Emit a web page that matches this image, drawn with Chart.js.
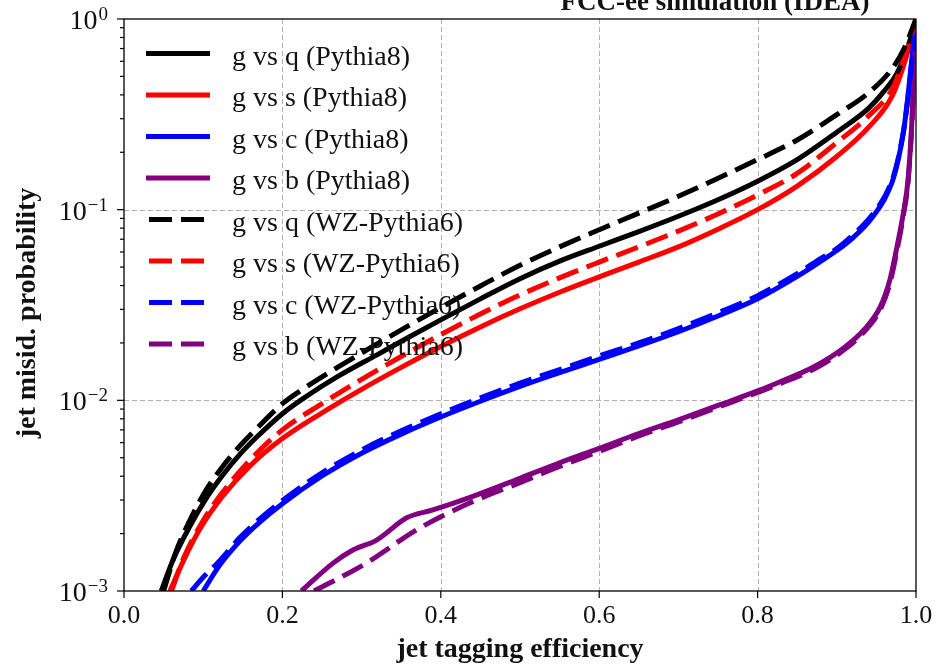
<!DOCTYPE html>
<html><head><meta charset="utf-8">
<script src="https://cdn.jsdelivr.net/npm/chart.js@4.4.1/dist/chart.umd.min.js"></script>
<style>html,body{margin:0;padding:0;background:#fff;overflow:hidden}#wrap{width:937px;height:665px}</style>
</head><body><div id="wrap"><canvas id="c" width="937" height="665"></canvas></div>
<script>
// ---------- texts & ticks ----------
const titleText = 'FCC-ee simulation (IDEA)';
const xAxisLabel = 'jet tagging efficiency';
const yAxisLabel = 'jet misid. probability';
const xTickValues = [0, 0.2, 0.4, 0.6, 0.8, 1.0];
const xTickLabels = ['0.0', '0.2', '0.4', '0.6', '0.8', '1.0'];
const xGridValues = [0.2, 0.4, 0.6, 0.8];
const yTickValues = [0.001, 0.01, 0.1, 1];
const yTickExponents = ['\u22123', '\u22122', '\u22121', '0'];
const yGridValues = [0.01, 0.1];
const yMinorMantissas = [2, 3, 4, 5, 6, 7, 8, 9];

// ---------- series ----------
const seriesLabels = ['g vs q (Pythia8)', 'g vs s (Pythia8)', 'g vs c (Pythia8)', 'g vs b (Pythia8)',
  'g vs q (WZ-Pythia6)', 'g vs s (WZ-Pythia6)', 'g vs c (WZ-Pythia6)', 'g vs b (WZ-Pythia6)'];
const seriesColors = ['#000000', '#ff0000', '#0000ff', '#800080', '#000000', '#ff0000', '#0000ff', '#800080'];
const seriesDashed = [false, false, false, false, true, true, true, true];

const effQ8 = [0.047, 0.062, 0.083, 0.104, 0.125, 0.146, 0.167, 0.2, 0.23, 0.27, 0.32, 0.36, 0.4, 0.45, 0.5, 0.55, 0.6, 0.65, 0.7, 0.75, 0.8, 0.85, 0.9, 0.94, 0.96, 0.975, 0.99, 1.0];
const misQ8 = [0.001, 0.00146, 0.00218, 0.00307, 0.00407, 0.00519, 0.00638, 0.00851, 0.01047, 0.01334, 0.01738, 0.02148, 0.02642, 0.03404, 0.04345, 0.0537, 0.0643, 0.0767, 0.0923, 0.1127, 0.141, 0.183, 0.255, 0.34, 0.42, 0.51, 0.72, 1.0];

const effS8 = [0.058, 0.075, 0.096, 0.125, 0.16, 0.2, 0.25, 0.3, 0.35, 0.4, 0.45, 0.5, 0.55, 0.6, 0.65, 0.7, 0.75, 0.8, 0.85, 0.9, 0.94, 0.97, 0.986, 1.0];
const misS8 = [0.001, 0.00144, 0.00212, 0.00316, 0.00457, 0.0063, 0.0086, 0.01142, 0.01488, 0.01916, 0.02427, 0.0302, 0.0369, 0.0444, 0.0531, 0.0638, 0.079, 0.1, 0.133, 0.19, 0.27, 0.395, 0.6, 1.0];

const effC8 = [0.1, 0.12, 0.146, 0.17, 0.2, 0.25, 0.3, 0.35, 0.4, 0.45, 0.5, 0.55, 0.6, 0.65, 0.7, 0.75, 0.8, 0.85, 0.88, 0.9, 0.92, 0.94, 0.96, 0.965, 0.97, 0.975, 0.98, 0.985, 0.99, 0.995, 1.0];
const misC8 = [0.001, 0.00135, 0.00182, 0.00227, 0.00287, 0.00401, 0.00528, 0.00665, 0.00818, 0.00989, 0.01183, 0.01396, 0.0164, 0.0193, 0.0229, 0.0277, 0.0341, 0.0447, 0.0537, 0.061, 0.071, 0.086, 0.113, 0.125, 0.14, 0.165, 0.205, 0.27, 0.40, 0.63, 1.0];

const effB8 = [0.224, 0.264, 0.289, 0.319, 0.357, 0.39, 0.437, 0.5, 0.55, 0.6, 0.65, 0.7, 0.75, 0.8, 0.83, 0.87, 0.91, 0.935, 0.955, 0.967, 0.976, 0.984, 0.99, 0.995, 0.998, 1.0];
const misB8 = [0.001, 0.0014, 0.00164, 0.00185, 0.00242, 0.00266, 0.0031, 0.0039, 0.0047, 0.0056, 0.0067, 0.0079, 0.0094, 0.0112, 0.0126, 0.0149, 0.019, 0.0236, 0.031, 0.0428, 0.064, 0.096, 0.144, 0.3, 0.6, 1.0];

const effQ6 = [0.05, 0.065, 0.083, 0.104, 0.125, 0.146, 0.167, 0.2, 0.23, 0.27, 0.32, 0.36, 0.4, 0.45, 0.5, 0.55, 0.6, 0.65, 0.7, 0.75, 0.8, 0.85, 0.9, 0.94, 0.97, 0.985, 1.0];
const misQ6 = [0.001, 0.00158, 0.00234, 0.0034, 0.00452, 0.00575, 0.00708, 0.0096, 0.01175, 0.01493, 0.01982, 0.02472, 0.0307, 0.0398, 0.0511, 0.0638, 0.0785, 0.0959, 0.1175, 0.1462, 0.1832, 0.232, 0.315, 0.41, 0.55, 0.7, 1.0];

const effS6 = [0.06, 0.075, 0.1, 0.125, 0.16, 0.2, 0.25, 0.3, 0.35, 0.4, 0.45, 0.5, 0.55, 0.6, 0.65, 0.7, 0.75, 0.8, 0.85, 0.9, 0.94, 0.97, 0.985, 1.0];
const misS6 = [0.001, 0.00148, 0.00234, 0.00331, 0.0049, 0.007, 0.0096, 0.01288, 0.01698, 0.02213, 0.02835, 0.0357, 0.0439, 0.0531, 0.0638, 0.0772, 0.095, 0.1195, 0.155, 0.225, 0.31, 0.43, 0.62, 1.0];

const effC6 = [0.085, 0.1, 0.12, 0.146, 0.17, 0.2, 0.25, 0.3, 0.35, 0.4, 0.45, 0.5, 0.55, 0.6, 0.65, 0.7, 0.75, 0.8, 0.85, 0.88, 0.9, 0.92, 0.94, 0.96, 0.965, 0.97, 0.975, 0.98, 0.985, 0.99, 0.995, 1.0];
const misC6 = [0.001, 0.00118, 0.00143, 0.0019, 0.00236, 0.00298, 0.00417, 0.00549, 0.00692, 0.0085, 0.0103, 0.0123, 0.0145, 0.0171, 0.02, 0.0238, 0.0288, 0.0354, 0.0462, 0.0555, 0.0625, 0.0735, 0.089, 0.116, 0.128, 0.143, 0.168, 0.207, 0.27, 0.39, 0.62, 1.0];

const effB6 = [0.24, 0.306, 0.37, 0.437, 0.5, 0.55, 0.6, 0.65, 0.7, 0.75, 0.8, 0.83, 0.87, 0.91, 0.935, 0.955, 0.967, 0.976, 0.984, 0.99, 0.995, 0.998, 1.0];
const misB6 = [0.001, 0.0014, 0.0021, 0.0029, 0.0037, 0.0045, 0.0054, 0.0065, 0.0077, 0.0092, 0.011, 0.0123, 0.0145, 0.0185, 0.023, 0.030, 0.041, 0.061, 0.093, 0.14, 0.29, 0.58, 1.0];

const seriesEff = [effQ8, effS8, effC8, effB8, effQ6, effS6, effC6, effB6];
const seriesMis = [misQ8, misS8, misC8, misB8, misQ6, misS6, misC6, misB6];

// ---------- chart ----------
const SERIF = '"Liberation Serif", "Times New Roman", Times, serif';
const LINE_W = 5;
const DASH = [23, 9];

const datasets = seriesLabels.map((label, i) => ({
  label,
  data: seriesEff[i].map((x, k) => ({ x, y: seriesMis[i][k] })),
  borderColor: seriesColors[i],
  backgroundColor: seriesColors[i],
  borderWidth: LINE_W,
  borderDash: seriesDashed[i] ? DASH : [],
  pointRadius: 0,
  fill: false,
  cubicInterpolationMode: 'monotone',
  clip: 0,
  order: seriesDashed[i] ? 0 : 1
}));

function seg(ctx, x1, y1, x2, y2) { ctx.beginPath(); ctx.moveTo(x1, y1); ctx.lineTo(x2, y2); ctx.stroke(); }

const decor = {
  id: 'decor',
  beforeDraw(chart) {
    const ctx = chart.ctx;
    ctx.save(); ctx.fillStyle = '#fff'; ctx.fillRect(0, 0, chart.width, chart.height); ctx.restore();
  },
  beforeDatasetsDraw(chart) {
    const { ctx, chartArea: a, scales: { x, y } } = chart;
    ctx.save();
    ctx.strokeStyle = '#b0b0b0'; ctx.lineWidth = 1; ctx.setLineDash([5, 3]);
    xGridValues.forEach(v => { const p = Math.round(x.getPixelForValue(v)) + 0.5; seg(ctx, p, a.top, p, a.bottom); });
    yGridValues.forEach(v => { const p = Math.round(y.getPixelForValue(v)) + 0.5; seg(ctx, a.left, p, a.right, p); });
    ctx.restore();
  },
  afterDatasetsDraw(chart) {
    const { ctx, chartArea: a, scales: { x, y } } = chart;
    ctx.save();
    // frame
    ctx.strokeStyle = '#000'; ctx.lineWidth = 1.3; ctx.setLineDash([]);
    ctx.strokeRect(a.left, a.top, a.right - a.left, a.bottom - a.top);
    // x ticks
    ctx.lineWidth = 1.2;
    ctx.fillStyle = '#111';
    ctx.font = '26px ' + SERIF; ctx.textAlign = 'center'; ctx.textBaseline = 'alphabetic';
    xTickValues.forEach((v, i) => {
      const p = x.getPixelForValue(v);
      seg(ctx, p, a.bottom, p, a.bottom + 7);
      ctx.fillText(xTickLabels[i], p, 623);
    });
    // y minor ticks
    for (let d = 0; d < yTickValues.length - 1; d++) {
      yMinorMantissas.forEach(m => {
        const p = y.getPixelForValue(m * yTickValues[d]);
        seg(ctx, a.left - 4, p, a.left, p);
      });
    }
    // y major ticks + labels
    const rightX = a.left - 16;
    yTickValues.forEach((v, i) => {
      const p = y.getPixelForValue(v);
      seg(ctx, a.left - 7, p, a.left, p);
      ctx.font = '19px ' + SERIF; ctx.textAlign = 'left';
      const ew = ctx.measureText(yTickExponents[i]).width;
      ctx.fillText(yTickExponents[i], rightX - ew, p + 1);
      ctx.font = '28px ' + SERIF; ctx.textAlign = 'right';
      ctx.fillText('10', rightX - ew - 1, p + 10);
    });
    // axis labels
    ctx.font = 'bold 28px ' + SERIF; ctx.textAlign = 'center'; ctx.textBaseline = 'alphabetic';
    ctx.fillText(xAxisLabel, (a.left + a.right) / 2, 657);
    ctx.save();
    ctx.translate(35, (a.top + a.bottom) / 2 + 8);
    ctx.rotate(-Math.PI / 2);
    ctx.fillText(yAxisLabel, 0, 0);
    ctx.restore();
    // title
    ctx.font = 'bold 27px ' + SERIF; ctx.textAlign = 'center';
    ctx.fillText(titleText, 715, 10);
    // legend
    const lx0 = a.left + 22, lx1 = a.left + 86, tx = a.left + 108;
    chart.data.datasets.forEach((ds, i) => {
      const yy = a.top + 34.5 + i * 41.5;
      ctx.strokeStyle = ds.borderColor; ctx.lineWidth = ds.borderWidth;
      const dash = ds.borderDash || [];
      ctx.setLineDash(dash);
      ctx.lineDashOffset = dash.length ? dash[0] + dash[1] - 3 : 0;
      seg(ctx, lx0, yy, lx1, yy);
      ctx.setLineDash([]); ctx.lineDashOffset = 0;
      ctx.fillStyle = '#111'; ctx.font = '28px ' + SERIF; ctx.textAlign = 'left';
      ctx.fillText(ds.label, tx, yy + 11);
    });
    ctx.restore();
  }
};

new Chart(document.getElementById('c'), {
  type: 'line',
  data: { datasets },
  options: {
    responsive: false,
    animation: false,
    devicePixelRatio: 1,
    layout: { padding: { left: 124, right: 21, top: 19, bottom: 74 } },
    plugins: { legend: { display: false }, tooltip: { enabled: false }, title: { display: false } },
    scales: {
      x: { type: 'linear', min: 0, max: 1, display: false },
      y: { type: 'logarithmic', min: 0.001, max: 1, display: false }
    }
  },
  plugins: [decor]
});
</script></body></html>
